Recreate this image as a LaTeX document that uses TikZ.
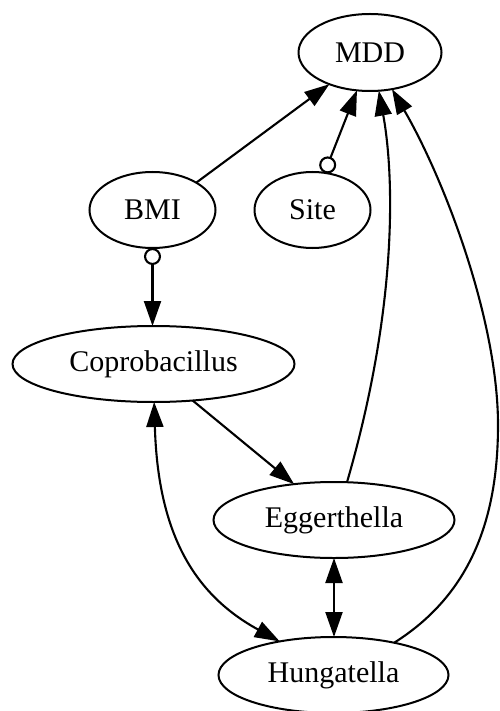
\documentclass[tikz,border=0pt]{standalone}
\usepackage{fontspec}
\setmainfont{Liberation Serif}
\usetikzlibrary{shapes.geometric,arrows.meta}
\begin{document}
\begin{tikzpicture}[x=1pt,y=-1pt,
  nd/.style={ellipse,draw,line width=2pt,inner sep=0pt,outer sep=0pt,minimum height=76pt,font=\fontsize{30}{36}\selectfont},
  tri/.tip={Triangle[length=25pt,width=17pt]},
  odot/.tip={Circle[open,length=17pt]},
  ed/.style={line width=2.1pt,-tri},
  ded/.style={line width=2.1pt,tri-tri},
  oed/.style={line width=2.1pt,odot-tri}]
\useasboundingbox (0,0) rectangle (499,711);
\fill[white] (0,0) rectangle (499,711);
\node[nd,minimum width=143pt,minimum height=77pt] (MDD) at (370,52.5) {MDD};
\node[nd,minimum width=126pt] (BMI) at (152.5,210) {BMI};
\node[nd,minimum width=116pt] (Site) at (312.5,210) {Site};
\node[nd,minimum width=282pt] (Copro) at (153.5,364) {Coprobacillus};
\node[nd,minimum width=241pt] (Egg) at (334,520) {Eggerthella};
\node[nd,minimum width=230pt] (Hung) at (333.5,675) {Hungatella};
\coordinate (hm) at (498,425);
% edges
\draw[ed] (BMI.32.4) -- (MDD.218.7);
\draw[oed] (Site.72.4) -- (MDD.251.3);
\draw[oed] (BMI.south) -- (BMI.south |- Copro.north);
\draw[ed] (Copro.317.5) -- (Egg.138);
\draw[ded] (Copro.271) .. controls +(3.8,133) and +(-84.7,-46.4) .. (Hung.148);
\draw[ded] (Egg.south) -- (Egg.south |- Hung.north);
\draw[ed] (Egg.71) .. controls +(50,-172) and +(16,88) .. (MDD.283.2);
\draw[ed] (Hung.28) .. controls +(75.7,-47.7) and +(0,95) .. (hm)
  .. controls +(0,-105) and +(52.6,90.9) .. (MDD.301.5);
\end{tikzpicture}
\end{document}
